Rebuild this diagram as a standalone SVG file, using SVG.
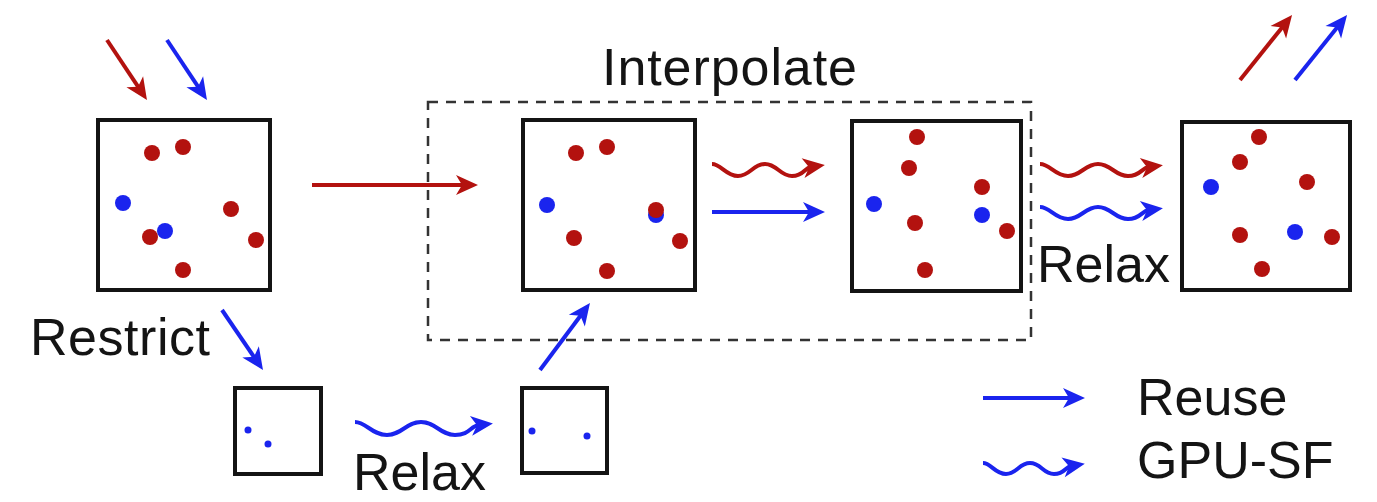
<svg xmlns="http://www.w3.org/2000/svg" width="1377" height="502" viewBox="0 0 1377 502">
<style>
.box{fill:#fff;stroke:#141414;stroke-width:4}
.r{fill:#b3120f}
.b{fill:#1a24ee}
.lr{fill:none;stroke:#b3120f;stroke-width:4}
.lb{fill:none;stroke:#1a24ee;stroke-width:4}
.t{font-family:"Liberation Sans",Arial,sans-serif;font-size:52px;fill:#141414}
.dash{fill:none;stroke:#333;stroke-width:2.5;stroke-dasharray:10 8}
</style>
<defs>
<marker id="ar" markerUnits="userSpaceOnUse" markerWidth="22" markerHeight="20" refX="8" refY="10" orient="auto" overflow="visible"><path d="M0,0 L22,10 L0,20 L6,10 z" fill="#b3120f"/></marker>
<marker id="ab" markerUnits="userSpaceOnUse" markerWidth="22" markerHeight="20" refX="8" refY="10" orient="auto" overflow="visible"><path d="M0,0 L22,10 L0,20 L6,10 z" fill="#1a24ee"/></marker>
</defs>
<g id="interpolate-region">
<rect class="dash" x="428" y="102" width="603" height="238"/>
<text class="t" x="602" y="85" textLength="255">Interpolate</text>
</g>
<g id="box1">
<rect class="box" x="98" y="120" width="172" height="170"/>
<circle class="r" cx="152" cy="153" r="8"/><circle class="r" cx="183" cy="147" r="8"/>
<circle class="b" cx="123" cy="203" r="8"/><circle class="r" cx="231" cy="209" r="8"/>
<circle class="r" cx="150" cy="237" r="8"/><circle class="b" cx="165" cy="231" r="8"/>
<circle class="r" cx="256" cy="240" r="8"/><circle class="r" cx="183" cy="270" r="8"/>
</g>
<g id="box2">
<rect class="box" x="523" y="120" width="172" height="170"/>
<circle class="r" cx="576" cy="153" r="8"/><circle class="r" cx="607" cy="147" r="8"/>
<circle class="b" cx="547" cy="205" r="8"/><circle class="b" cx="656" cy="215" r="8"/>
<circle class="r" cx="656" cy="210" r="8"/><circle class="r" cx="574" cy="238" r="8"/>
<circle class="r" cx="680" cy="241" r="8"/><circle class="r" cx="607" cy="271" r="8"/>
</g>
<g id="box3">
<rect class="box" x="852" y="121" width="169" height="170"/>
<circle class="r" cx="917" cy="137" r="8"/><circle class="r" cx="909" cy="168" r="8"/>
<circle class="b" cx="874" cy="204" r="8"/><circle class="r" cx="982" cy="187" r="8"/>
<circle class="b" cx="982" cy="215" r="8"/><circle class="r" cx="915" cy="223" r="8"/>
<circle class="r" cx="1007" cy="231" r="8"/><circle class="r" cx="925" cy="270" r="8"/>
</g>
<g id="box4">
<rect class="box" x="1182" y="122" width="168" height="168"/>
<circle class="r" cx="1259" cy="137" r="8"/><circle class="r" cx="1240" cy="162" r="8"/>
<circle class="b" cx="1211" cy="187" r="8"/><circle class="r" cx="1307" cy="182" r="8"/>
<circle class="r" cx="1240" cy="235" r="8"/><circle class="b" cx="1295" cy="232" r="8"/>
<circle class="r" cx="1332" cy="237" r="8"/><circle class="r" cx="1262" cy="269" r="8"/>
</g>
<g id="small1">
<rect class="box" x="235" y="388" width="86" height="86"/>
<circle class="b" cx="248" cy="430" r="3.5"/><circle class="b" cx="268" cy="444" r="3.5"/>
</g>
<g id="small2">
<rect class="box" x="522" y="388" width="85" height="85"/>
<circle class="b" cx="532" cy="431" r="3.5"/><circle class="b" cx="587" cy="436" r="3.5"/>
</g>
<g id="labels">
<text class="t" x="30" y="355" textLength="180">Restrict</text>
<text class="t" x="1037" y="282">Relax</text>
<text class="t" x="353" y="490">Relax</text>
</g>
<g id="connectors">
<path class="lr" d="M107,40 L139.2,88.4" marker-end="url(#ar)"/>
<path class="lb" d="M167,40 L199.2,88.4" marker-end="url(#ab)"/>
<path class="lr" d="M312,185 L464,185" marker-end="url(#ar)"/>
<path class="lb" d="M222,310 L255.1,358.5" marker-end="url(#ab)"/>
<path class="lb" d="M540,370 L581.6,314.2" marker-end="url(#ab)"/>
<path class="lr" d="M1240,80 L1283.3,25.9" marker-end="url(#ar)"/>
<path class="lb" d="M1295,80 L1338.3,25.9" marker-end="url(#ab)"/>
<path class="lr" d="M712,164 c9,0 14,12 26,12 s15,-12 27,-12 s15,12 27,12 s12,-8 19,-9" marker-end="url(#ar)"/>
<path class="lb" d="M712,212 L811,212" marker-end="url(#ab)"/>
<path class="lr" d="M1040,164 c10,0 15,12 28,12 s17,-12 30,-12 s17,12 30,12 s13,-8 21,-9" marker-end="url(#ar)"/>
<path class="lb" d="M1040,207 c10,0 15,12 28,12 s17,-12 30,-12 s17,12 30,12 s13,-8 21,-9" marker-end="url(#ab)"/>
<path class="lb" d="M355,422 c11,0 17,13 32,13 s19,-13 34,-13 s19,13 34,13 s15,-9 24,-10" marker-end="url(#ab)"/>
</g>
<g id="legend">
<path class="lb" d="M983,398 L1071,398" marker-end="url(#ab)"/>
<path class="lb" d="M983,463 c8,0 12,11 23,11 s13,-11 24,-11 s13,11 24,11 s11,-7 17,-8" marker-end="url(#ab)"/>
<text class="t" x="1137" y="415">Reuse</text>
<text class="t" x="1137" y="478">GPU-SF</text>
</g>
</svg>
